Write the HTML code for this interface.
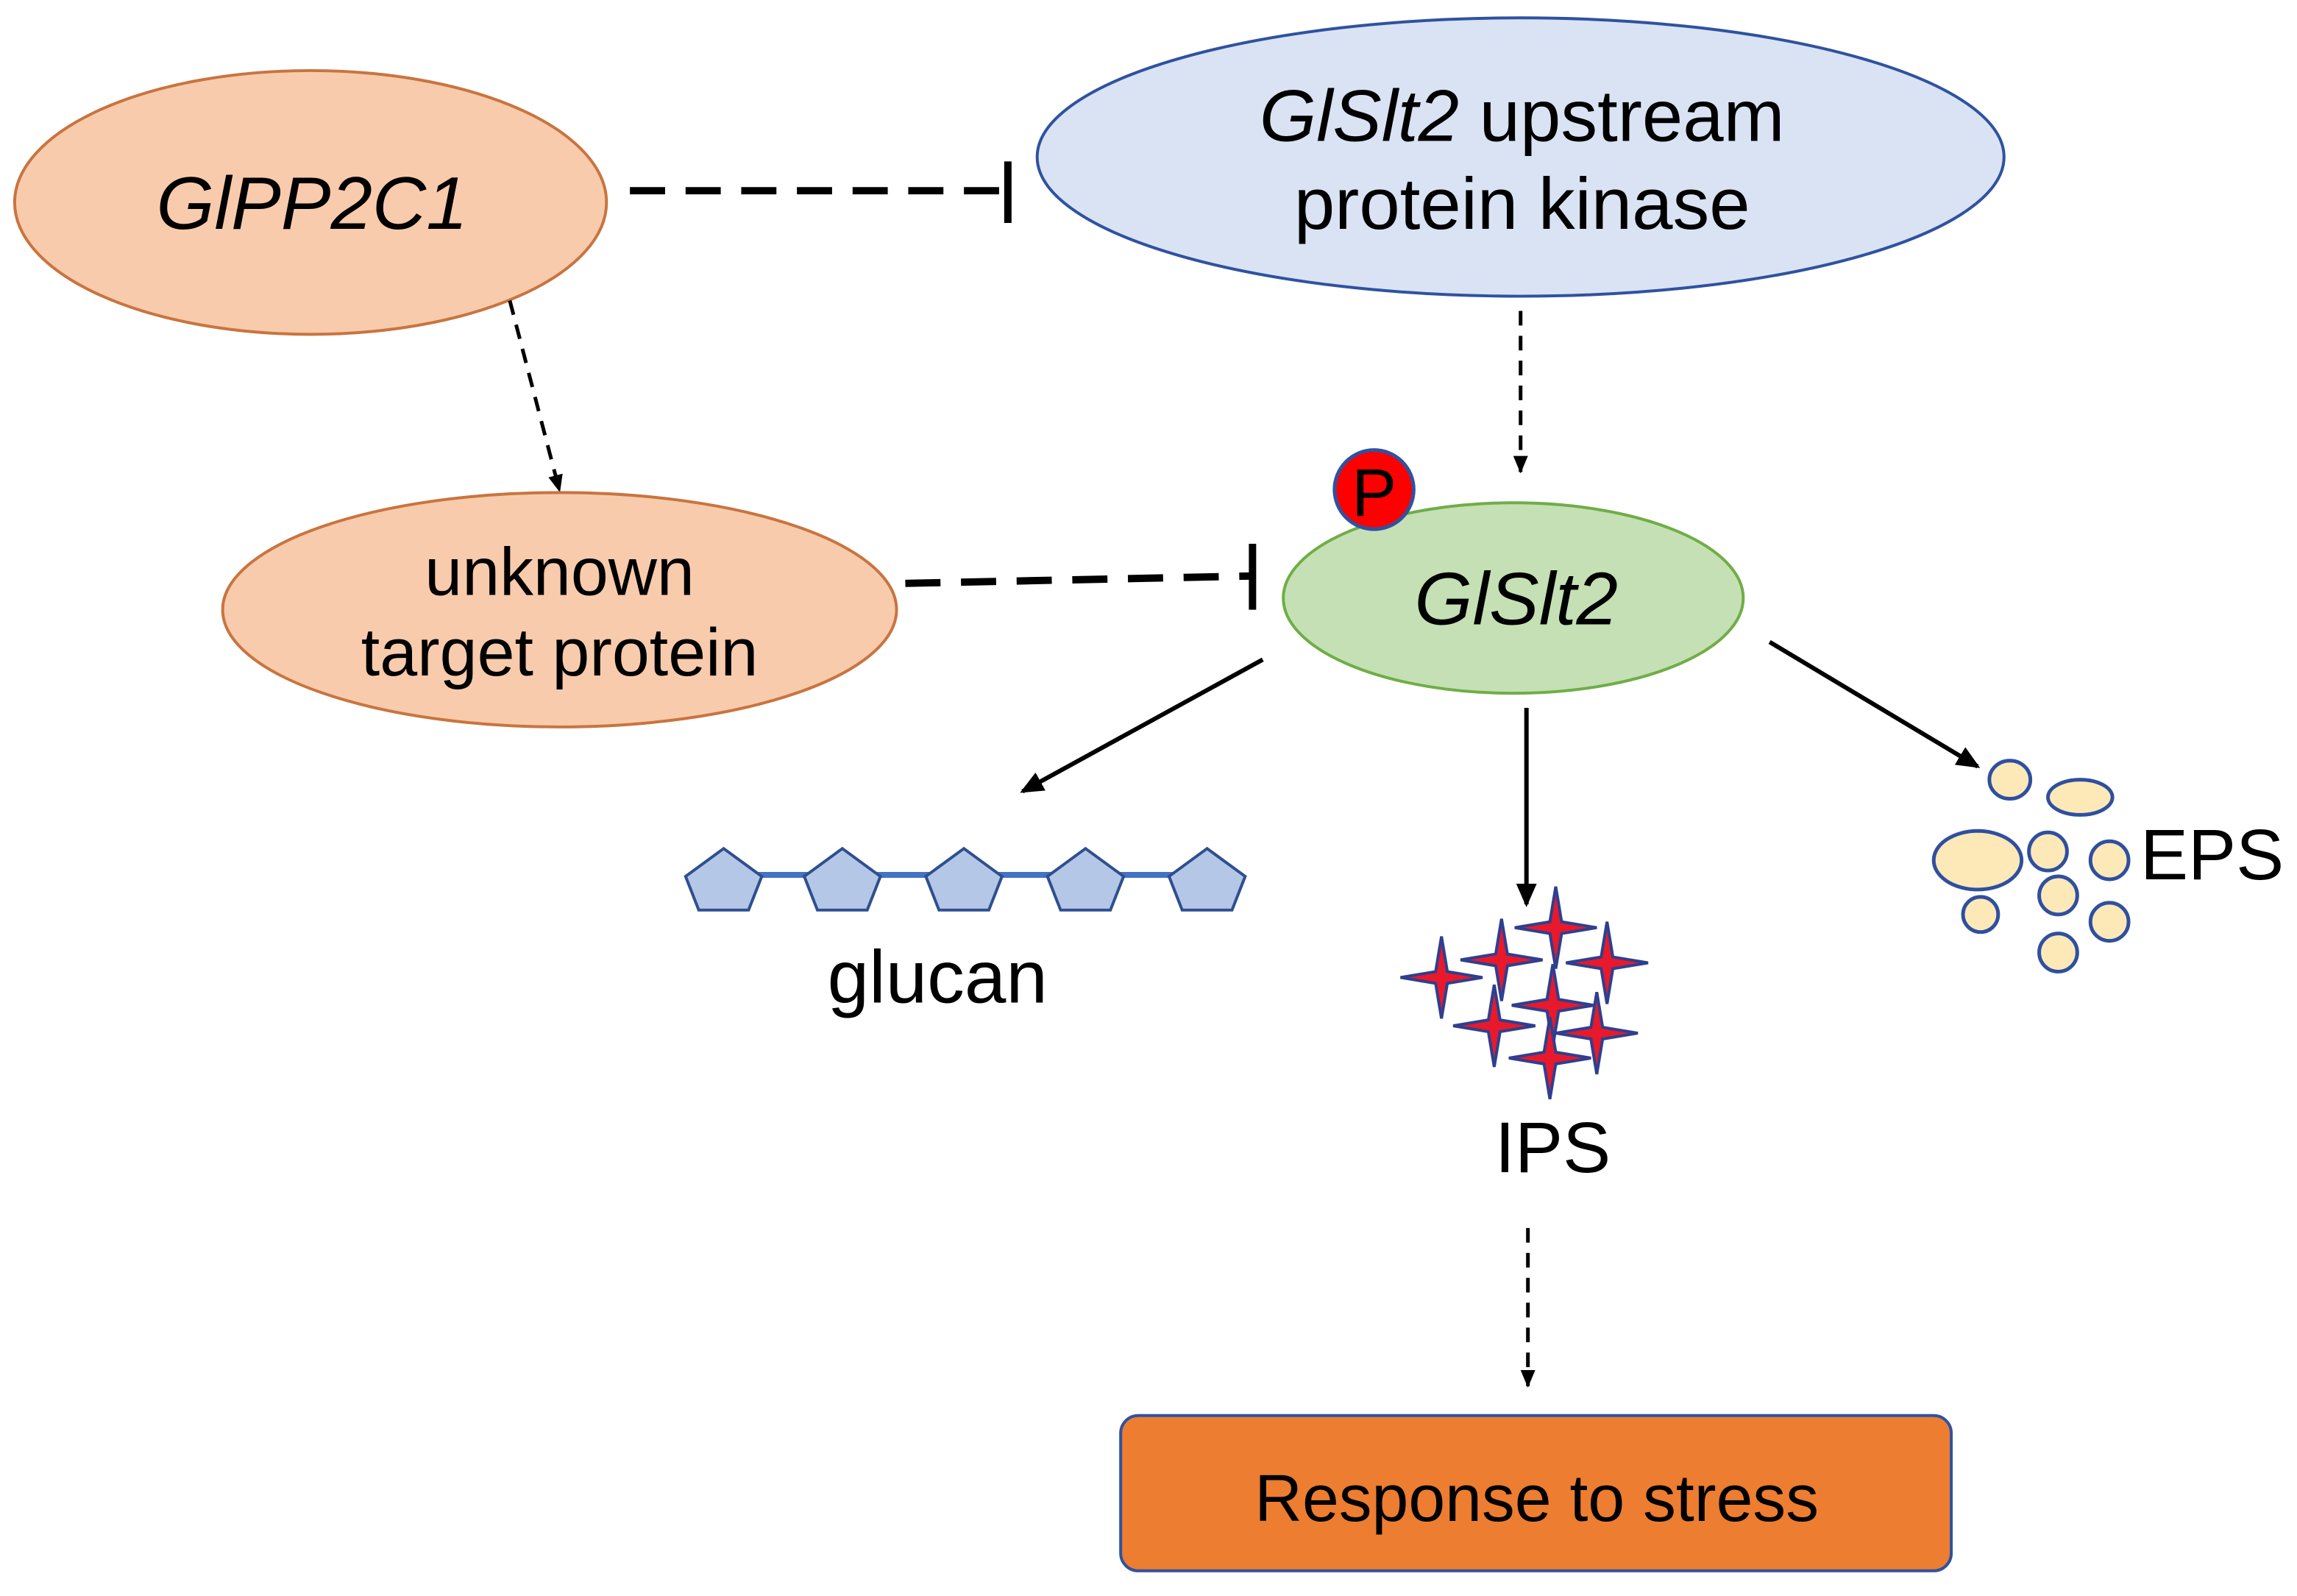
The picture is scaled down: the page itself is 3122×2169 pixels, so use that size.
<!DOCTYPE html>
<html><head><meta charset="utf-8"><style>html,body{margin:0;padding:0;background:#fff}svg{display:block}</style></head>
<body>
<svg width="3122" height="2169" viewBox="0 0 1568 1089" xmlns="http://www.w3.org/2000/svg" font-family="Liberation Sans, Arial, sans-serif">
<defs>
<marker id="a" markerWidth="12" markerHeight="12" refX="11" refY="6" orient="auto" markerUnits="userSpaceOnUse" viewBox="0 0 12 12"><path d="M0,1 L12,6 L0,11 z" fill="#000"/></marker>
<marker id="b" markerWidth="16" markerHeight="16" refX="14" refY="8" orient="auto" markerUnits="userSpaceOnUse" viewBox="0 0 16 16"><path d="M0,1 L16,8 L0,15 z" fill="#000"/></marker>
<g id="st"><path d="M0,-28 L4,-4 L28,0 L4,4 L0,28 L-4,4 L-28,0 L-4,-4 z" fill="#e8192c" stroke="#2f3f8f" stroke-width="2"/></g>
<polygon id="pt" points="0,-23 26,-4 17,19 -17,19 -26,-4" fill="#b4c7e7" stroke="#2f4f8f" stroke-width="2"/>
</defs>
<rect width="1568" height="1089" fill="#fff"/>
<ellipse cx="212" cy="138" rx="202" ry="90" fill="#f8cbad" stroke="#c9743f" stroke-width="2"/>
<text x="213" y="156" font-size="51" font-style="italic" text-anchor="middle">GlPP2C1</text>
<ellipse cx="1038" cy="107" rx="330" ry="95" fill="#dae3f3" stroke="#2f52a0" stroke-width="2"/>
<text x="1039" y="96" font-size="50" text-anchor="middle"><tspan font-style="italic">GlSlt2</tspan> upstream</text>
<text x="1039" y="156" font-size="50" text-anchor="middle">protein kinase</text>
<line x1="430" y1="130" x2="686" y2="130" stroke="#000" stroke-width="5" stroke-dasharray="24,14"/>
<line x1="688" y1="110" x2="688" y2="152" stroke="#000" stroke-width="5"/>
<line x1="348" y1="205" x2="382" y2="335" stroke="#000" stroke-width="2.5" stroke-dasharray="10,7" marker-end="url(#a)"/>
<line x1="1038" y1="212" x2="1038" y2="322" stroke="#000" stroke-width="2.5" stroke-dasharray="10,7" marker-end="url(#a)"/>
<ellipse cx="382" cy="416" rx="230" ry="80" fill="#f8cbad" stroke="#c9743f" stroke-width="2"/>
<text x="382" y="406" font-size="46" text-anchor="middle">unknown</text>
<text x="382" y="461" font-size="46" text-anchor="middle">target protein</text>
<line x1="618" y1="398" x2="853" y2="393" stroke="#000" stroke-width="5" stroke-dasharray="24,14"/>
<line x1="855" y1="371" x2="855" y2="416" stroke="#000" stroke-width="5"/>
<ellipse cx="1033" cy="408" rx="157" ry="65" fill="#c5e0b4" stroke="#70ad47" stroke-width="2"/>
<text x="1035" y="426" font-size="51" font-style="italic" text-anchor="middle">GlSlt2</text>
<circle cx="938" cy="334" r="27" fill="#ff0000" stroke="#2f52a0" stroke-width="2.5"/>
<text x="938" y="352" font-size="46" text-anchor="middle">P</text>
<line x1="862" y1="450" x2="698" y2="540" stroke="#000" stroke-width="3" marker-end="url(#b)"/>
<line x1="1042" y1="483" x2="1042" y2="617" stroke="#000" stroke-width="3" marker-end="url(#b)"/>
<line x1="1208" y1="438" x2="1350" y2="523" stroke="#000" stroke-width="3" marker-end="url(#b)"/>
<line x1="494" y1="597" x2="824" y2="597" stroke="#4472c4" stroke-width="4"/>
<use href="#pt" x="494" y="602"/><use href="#pt" x="575" y="602"/><use href="#pt" x="658" y="602"/><use href="#pt" x="741" y="602"/><use href="#pt" x="824" y="602"/>
<text x="640" y="684" font-size="51" text-anchor="middle">glucan</text>
<use href="#st" x="1062" y="633"/><use href="#st" x="1025" y="655"/><use href="#st" x="1097" y="657"/><use href="#st" x="984" y="667"/><use href="#st" x="1060" y="686"/><use href="#st" x="1020" y="700"/><use href="#st" x="1090" y="705"/><use href="#st" x="1058" y="722"/>
<text x="1060" y="800" font-size="49" text-anchor="middle">IPS</text>
<g fill="#fde9b8" stroke="#2f4f9f" stroke-width="2.5">
<ellipse cx="1372" cy="532" rx="14" ry="13"/><ellipse cx="1420" cy="544" rx="22" ry="12"/><ellipse cx="1350" cy="587" rx="30" ry="20"/><ellipse cx="1398" cy="581" rx="13" ry="13"/><ellipse cx="1440" cy="587" rx="13" ry="13"/><ellipse cx="1405" cy="611" rx="13" ry="13"/><ellipse cx="1352" cy="624" rx="12" ry="12"/><ellipse cx="1440" cy="629" rx="13" ry="13"/><ellipse cx="1405" cy="650" rx="13" ry="13"/>
</g>
<text x="1461" y="600" font-size="49">EPS</text>
<line x1="1043" y1="838" x2="1043" y2="946" stroke="#000" stroke-width="2.5" stroke-dasharray="10,7" marker-end="url(#a)"/>
<rect x="765" y="966" width="567" height="106" rx="12" fill="#ed7d31" stroke="#2f52a0" stroke-width="2"/>
<text x="1049" y="1038" font-size="45" text-anchor="middle">Response to stress</text>
</svg>
</body></html>
